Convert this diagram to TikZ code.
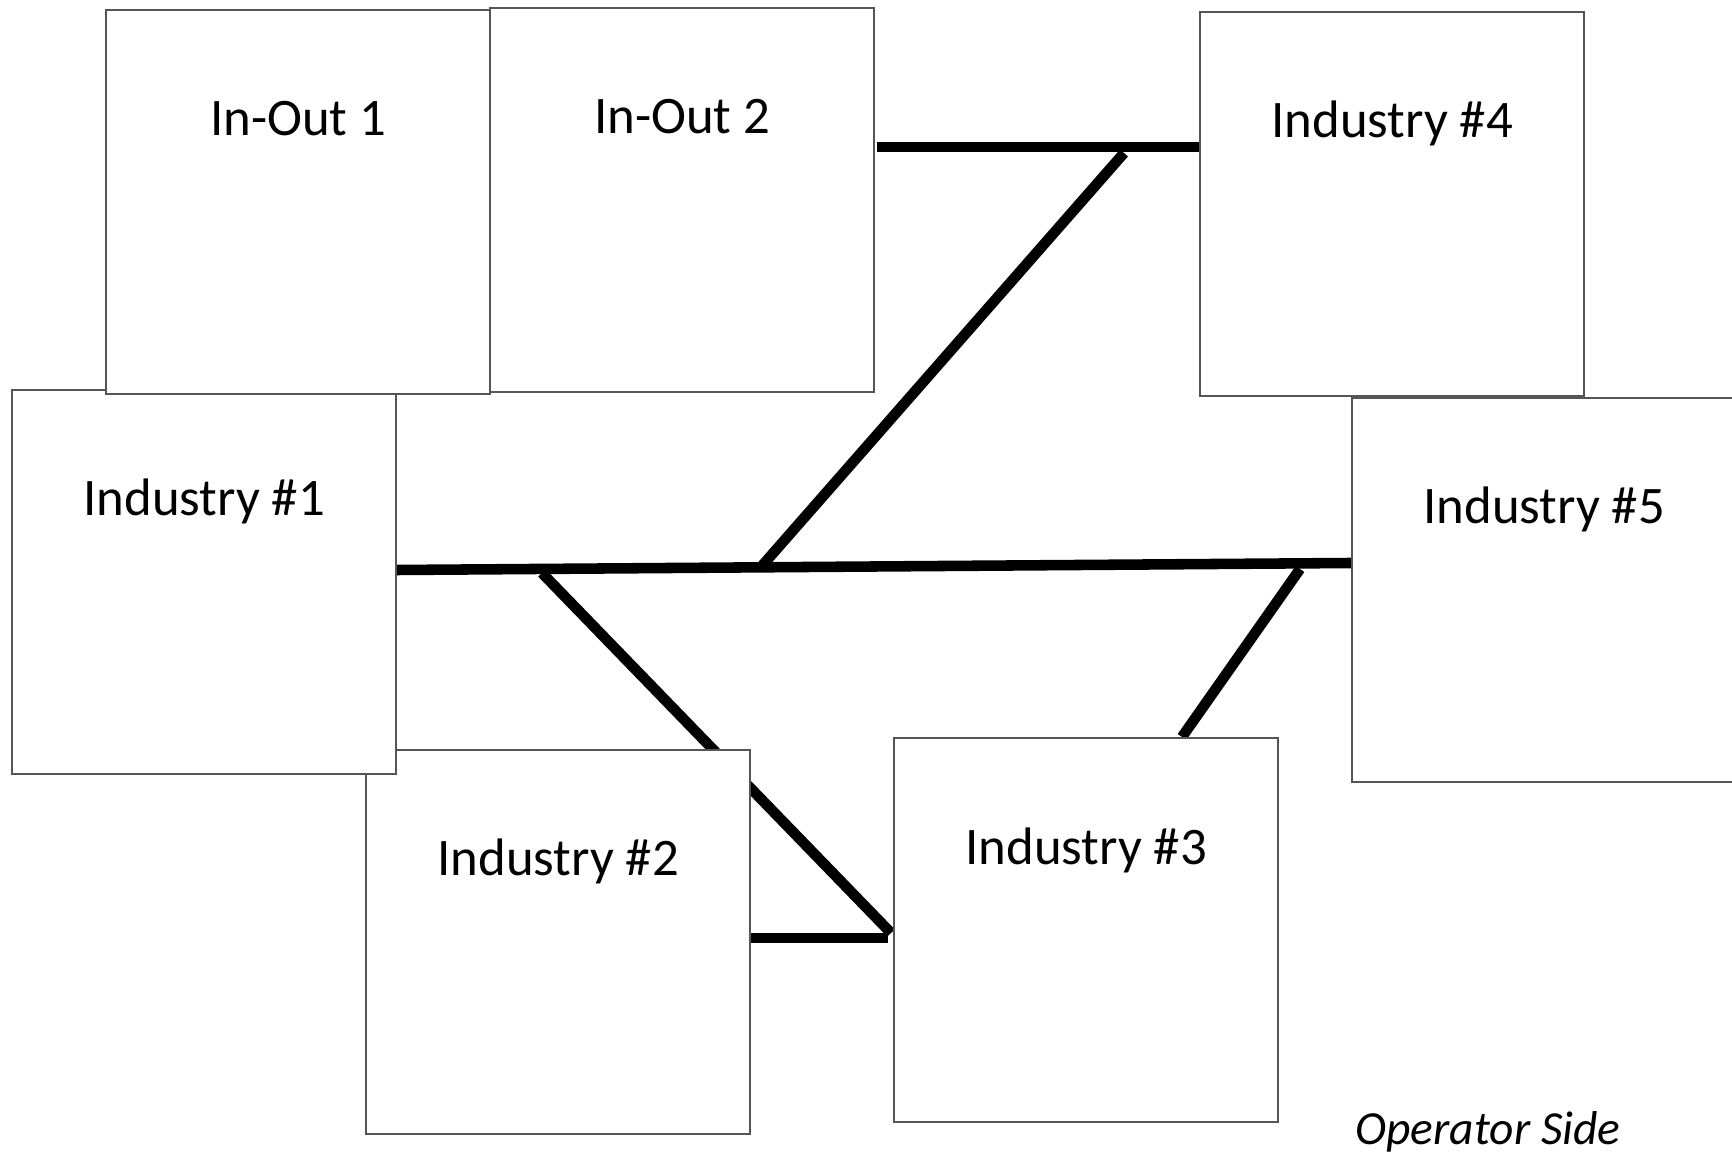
\documentclass[tikz,border=0pt]{standalone}
\usepackage{fontspec}
\setmainfont{Carlito}
\usetikzlibrary{calc}
\definecolor{boxgray}{HTML}{555555}
\pgfdeclarelayer{bg}
\pgfdeclarelayer{tracks}
\pgfsetlayers{bg,tracks,main}
\begin{document}
\begin{tikzpicture}[x=0.01cm,y=-0.01cm,
  box/.style={draw=boxgray, fill=white, line width=0.6pt, rectangle,
    minimum width=3.84cm, minimum height=3.84cm, inner sep=0pt, anchor=north west},
  lbl/.style={anchor=base, font=\fontsize{15}{18}\selectfont, inner sep=0pt},
  track/.style={line width=3pt, draw=black}]
\useasboundingbox (0,0) rectangle (1732,1164);
\begin{pgfonlayer}{bg}
  \fill[white] (0,0) rectangle (1732,1164);
\end{pgfonlayer}

% boxes (stacking order matters)
\node[box] (ind2) at (365,749) {};
\node[box] (ind1) at (11,389) {};
\node[box] (io1)  at (105,9) {};
\node[box] (io2)  at (489,7) {};
\node[box] (ind4) at (1199,11) {};
\node[box] (ind5) at (1351,397) {};
\node[box] (ind3) at (893,737) {};

% labels
\node[lbl] (io1t)  at ($(io1.north)+(0,127)$)  {In-Out 1};
\node[lbl] (io2t)  at ($(io2.north)+(0,127)$)  {In-Out 2};
\node[lbl] (ind4t) at ($(ind4.north)+(0,127)$) {Industry \#4};
\node[lbl] (ind1t) at ($(ind1.north)+(0,127)$) {Industry \#1};
\node[lbl] (ind5t) at ($(ind5.north)+(0,127)$) {Industry \#5};
\node[lbl] (ind2t) at ($(ind2.north)+(0,127)$) {Industry \#2};
\node[lbl] (ind3t) at ($(ind3.north)+(0,128)$) {Industry \#3};
\node[anchor=base, inner sep=0pt, font=\itshape\fontsize{13.5}{16}\selectfont] (op) at (1488,1145) {Operator Side};

% junction coordinates
\coordinate (topL)  at (877,147);
\coordinate (topJ)  at (1124,153);
\coordinate (mainL) at (397,570);
\coordinate (mainR) at (1351,563);
\coordinate (midA)  at (761,567);
\coordinate (midB)  at (542,573);
\coordinate (midC)  at (1300,569);
\coordinate (lowY)  at (0,938);
\coordinate (lowE)  at (888,938);
\coordinate (diagE) at (891,933);
\coordinate (d3E)   at (1182,737);

\begin{pgfonlayer}{tracks}
  \draw[track] (topL) -- (ind4.west |- topL);
  \draw[track] (mainL) -- (mainR);
  \draw[track] (topJ) -- (midA);
  \draw[track] (midB) -- (diagE);
  \draw[track] (midC) -- (d3E);
  \draw[track] (ind2.east |- lowY) -- (lowE);
\end{pgfonlayer}
\end{tikzpicture}
\end{document}
